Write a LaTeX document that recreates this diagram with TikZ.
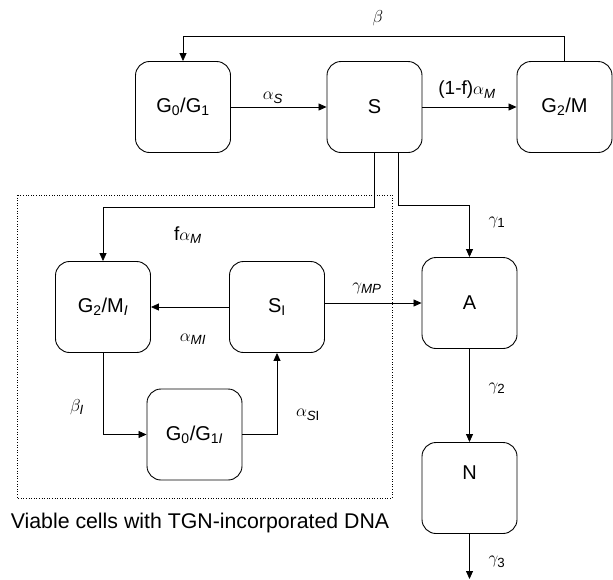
\documentclass[tikz,border=0pt]{standalone}
\usepackage{amsmath}
\usepackage{fontspec}
\setmainfont{Liberation Sans}
\usetikzlibrary{arrows.meta}
\newcommand{\subit}[1]{\text{\itshape #1}}
\newcommand{\subup}[1]{\text{\upshape #1}}
\begin{document}
\begin{tikzpicture}[x=1pt,y=-1pt,
  box/.style={draw, line width=0.9pt, rounded corners=14pt, minimum width=95pt, minimum height=91pt,
    inner sep=0pt, font=\fontsize{20}{24}\selectfont},
  arr/.style={line width=0.8pt, -{Triangle[length=8pt,width=7pt]}},
  lab/.style={font=\fontsize{19}{22}\selectfont, inner sep=0pt},
  captext/.style={font=\fontsize{21.3}{25}\selectfont, inner sep=0pt}]
\useasboundingbox (0,0) rectangle (613,579);
% dotted region
\draw[dotted, line width=0.6pt] (17,195) rectangle (392,498);
% boxes
\node[box] (G0G1) at (183,107) {G\textsubscript{0}/G\textsubscript{1}};
\node[box] (S) at (374.5,107) {S};
\node[box] (G2M) at (564.5,107) {G\textsubscript{2}/M};
\node[box] (G2MI) at (103,307) {G\textsubscript{2}/M\textsubscript{\itshape I}};
\node[box] (SI) at (277,307) {S\textsubscript{I}};
\node[box] (G0G1I) at (194.5,434.5) {G\textsubscript{0}/G\textsubscript{1\itshape I}};
\node[box] (A) at (469.5,303) {A};
\node[box] (N) at (469.5,488) {};
\node[font=\fontsize{20}{24}\selectfont, inner sep=0pt] (Nlab) at (469.5,473) {N};
% helper coordinates
\coordinate (btop) at (0,36);
\coordinate (fturn) at (0,207);
\coordinate (gturn) at (0,205);
\coordinate (Sleft) at (374,0);
\coordinate (Sright) at (398,0);
\coordinate (Nend) at (469.5,579);
% connectors
\draw[arr] (G2M.north) -- (G2M.north |- btop) -| (G0G1.north);
\draw[arr] (G0G1) -- (S);
\draw[arr] (S) -- (G2M);
\draw[arr] (S.south -| Sleft) -- (Sleft |- fturn) -| (G2MI.north);
\draw[arr] (S.south -| Sright) -- (Sright |- gturn) -| (A.north);
\draw[arr] (SI) -- (G2MI);
\draw[arr] (SI.east |- A) -- (A.west);
\draw[arr] (G2MI.south) |- (G0G1I.west);
\draw[arr] (G0G1I.east) -| (SI.south);
\draw[arr] (A) -- (N);
\draw[arr] (N.south) -- (Nend);
% labels
\node[lab] (lbeta) at (378,18) {$\beta$};
\node[lab] (las) at (273,98) {$\alpha_{\subit{S}}$};
\node[lab] (lfam) at (467,90) {(1-f)$\alpha_{\subit{M}}$};
\node[lab] (lfa) at (188,235) {f$\alpha_{\subit{M}}$};
\node[lab] (lami) at (193,339) {$\alpha_{\subit{MI}}$};
\node[lab] (lgmp) at (367,288) {$\gamma_{\subit{MP}}$};
\node[lab] (lg1) at (497,222) {$\gamma_{\subup{1}}$};
\node[lab] (lg2) at (497,388) {$\gamma_{\subup{2}}$};
\node[lab] (lg3) at (497,562) {$\gamma_{\subup{3}}$};
\node[lab] (lbi) at (77,407) {$\beta_{\subit{I}}$};
\node[lab] (lasi) at (308,415) {$\alpha_{\subit{S}\subup{I}}$};
\node[captext] (caption) at (200,523) {Viable cells with TGN-incorporated DNA};
\end{tikzpicture}
\end{document}
